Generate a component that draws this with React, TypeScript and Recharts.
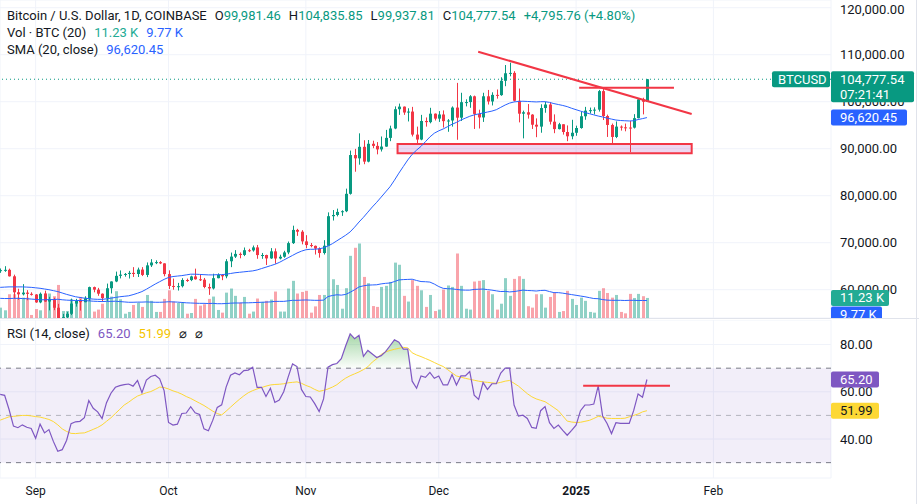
import React from 'react';
import {
  Area,
  Bar,
  CartesianGrid,
  ComposedChart,
  Line,
  ReferenceArea,
  ReferenceLine,
  XAxis,
  YAxis,
} from 'recharts';

const GREEN = '#089981';
const RED = '#F23645';
const BLUE = '#2962FF';
const PURPLE = '#7E57C2';
const YELLOW = '#FDD835';
const TEXT = '#131722';
const GRID = '#F0F3FA';
const VOL_UP = 'rgba(8,153,129,0.45)';
const VOL_DOWN = 'rgba(242,54,69,0.45)';
const FONT = 'Roboto, "Noto Sans", sans-serif';

// daily candles, Aug 24 2024 .. Jan 17 2025 (index 0..146)
const opens = [
  64080, 64160, 64230, 62850, 59450, 59020, 59380, 59120, 58980, 57300,
  59130, 57480, 57980, 56160, 53950, 54160, 54880, 57050, 57650, 57350,
  58130, 60550, 60010, 59150, 58220, 60310, 61750, 62950, 63200, 63350,
  63580, 63340, 64280, 63140, 65180, 65790, 65870, 65600, 63320, 60800,
  60630, 60750, 62070, 62050, 62820, 62220, 62130, 60580, 60270, 62450,
  63180, 62850, 66050, 67040, 67620, 67400, 68400, 68360, 69000, 67370,
  67380, 66660, 68160, 66640, 67010, 67930, 69910, 72720, 72340, 70280,
  69500, 69330, 68750, 67800, 69360, 75640, 75900, 76550, 76700, 80400,
  88650, 87950, 90400, 87250, 91050, 90600, 89850, 90450, 92300, 94300,
  98400, 98950, 97700, 97900, 93000, 91950, 95900, 95650, 97450, 96400,
  97280, 95860, 96000, 98750, 96600, 99900, 99920, 101150, 97400, 96650,
  101150, 100050, 101450, 101400, 104450, 106050, 106130, 100200, 97450, 97750,
  97250, 95100, 94700, 98650, 99400, 95750, 94170, 95200, 93550, 92640,
  93390, 94400, 96900, 98100, 98200, 98310, 102250, 96950, 95050, 92500,
  94700, 94550, 94500, 94480, 96500, 100500, 99981.46,
];
const highs = [
  64520, 65000, 64480, 63200, 60200, 61180, 59900, 59450, 59060, 59400,
  59800, 58500, 58300, 56990, 54850, 55300, 58100, 58050, 57990, 58600,
  60650, 60660, 60390, 59210, 61300, 61780, 63850, 64100, 63550, 64000,
  64800, 64700, 64800, 65800, 66500, 66250, 66080, 65620, 64120, 62360,
  61450, 62450, 62360, 62980, 64480, 63170, 62500, 61300, 63400, 63480,
  63280, 66500, 67900, 68420, 67930, 68980, 68700, 69400, 69520, 67820,
  67450, 68850, 68780, 67450, 68280, 70250, 73620, 72950, 72670, 71600,
  69940, 69400, 69000, 70540, 76450, 76950, 77250, 76900, 81500, 89600,
  89960, 93270, 91800, 91850, 91700, 91400, 92600, 94000, 94900, 99000,
  99600, 98980, 98600, 98900, 94700, 97200, 96650, 98700, 97500, 98000,
  98150, 96300, 99000, 104000, 101900, 100500, 101400, 101300, 98300, 101900,
  102500, 102000, 102600, 105200, 107800, 108300, 106500, 102800, 98100, 99500,
  97350, 96450, 99450, 99950, 99900, 97300, 95500, 95200, 94950, 96150,
  94900, 97800, 98900, 98750, 98800, 102500, 102700, 97250, 95350, 95800,
  94950, 95350, 95900, 97350, 100700, 100850, 104835.85,
];
const lows = [
  63580, 63800, 62800, 58100, 57860, 58780, 57750, 58750, 57200, 57120,
  57420, 55600, 55650, 52550, 53750, 53650, 54600, 56400, 55550, 57320,
  57650, 59450, 58700, 57500, 57620, 59200, 61600, 62400, 62770, 62380,
  62710, 62700, 62900, 62680, 64830, 65440, 65450, 62850, 60150, 60000,
  59820, 60480, 61660, 61820, 62140, 61850, 60300, 58900, 60050, 62420,
  62030, 62430, 64800, 66750, 66680, 67150, 68000, 68100, 66580, 66570,
  65260, 66560, 65520, 66450, 66800, 67550, 69730, 71450, 69650, 68820,
  69020, 67480, 66820, 67480, 69300, 74720, 75600, 75700, 76500, 80230,
  85100, 86600, 86700, 87100, 90100, 88800, 89400, 90400, 91600, 94150,
  97200, 97200, 95800, 92600, 91150, 91800, 94700, 95400, 96000, 95700,
  94500, 93600, 94700, 91900, 95900, 99000, 98700, 94200, 94300, 95700,
  99400, 99200, 100650, 101250, 103300, 105400, 100050, 95600, 92200, 96400,
  94200, 92450, 93400, 97650, 95150, 93300, 94100, 93000, 91600, 92000,
  92750, 94250, 96150, 97500, 97300, 97900, 96100, 92500, 91200, 92250,
  93850, 93700, 89260, 94300, 96450, 97300, 99937.81,
];
const closes = [
  64160, 64230, 62850, 59450, 59020, 59380, 59120, 58980, 57300, 59130,
  57480, 57980, 56160, 53950, 54160, 54880, 57050, 57650, 57350, 58130,
  60550, 60010, 59150, 58220, 60310, 61750, 62950, 63200, 63350, 63580,
  63340, 64280, 63140, 65180, 65790, 65870, 65600, 63320, 60800, 60630,
  60750, 62070, 62050, 62820, 62220, 62130, 60580, 60270, 62450, 63180,
  62850, 66050, 67040, 67620, 67400, 68400, 68360, 69000, 67370, 67380,
  66660, 68160, 66640, 67010, 67930, 69910, 72720, 72340, 70280, 69500,
  69330, 68750, 67800, 69360, 75640, 75900, 76550, 76700, 80400, 88650,
  87950, 90400, 87250, 91050, 90600, 89850, 90450, 92300, 94300, 98400,
  98950, 97700, 97900, 93000, 91950, 95900, 95650, 97450, 96400, 97280,
  95860, 96000, 98750, 96600, 99900, 99920, 101150, 97400, 96650, 101150,
  100050, 101450, 101400, 104450, 106050, 106130, 100200, 97450, 97750, 97250,
  95100, 94700, 98650, 99400, 95750, 94170, 95200, 93550, 92640, 93390,
  94400, 96900, 98100, 98200, 98310, 102250, 96950, 95050, 92500, 94700,
  94550, 94500, 94480, 96500, 100500, 99981.46, 104777.54,
];
// volume in thousands of BTC
const volumes = [
  5.8, 4.3, 13.3, 13.3, 11.4, 11.4, 11.4, 1.7, 5.0, 4.3,
  14.0, 13.7, 12.2, 18.5, 3.9, 3.9, 10.5, 9.6, 11.8, 11.4,
  11.4, 3.6, 4.7, 8.0, 11.8, 12.0, 15.0, 10.5, 2.4, 3.4,
  7.3, 8.6, 6.2, 12.9, 9.6, 3.4, 3.4, 10.7, 15.5, 9.2,
  8.4, 8.8, 2.4, 2.8, 10.7, 6.9, 7.7, 10.7, 12.0, 4.5,
  3.0, 14.2, 16.5, 12.4, 8.6, 11.8, 2.4, 3.6, 10.9, 9.0,
  9.6, 10.3, 14.8, 3.6, 3.6, 16.5, 20.8, 13.7, 14.6, 15.2,
  3.0, 6.5, 12.9, 12.9, 44.6, 21.7, 18.5, 5.2, 16.7, 34.8,
  39.3, 41.7, 23.0, 19.5, 6.7, 6.2, 17.4, 18.0, 20.2, 31.0,
  29.8, 12.4, 9.2, 21.2, 18.0, 15.5, 6.2, 12.9, 3.9, 4.7,
  15.9, 18.2, 17.4, 36.1, 18.0, 5.2, 4.7, 20.4, 20.8, 21.2,
  15.2, 13.3, 4.7, 8.0, 22.3, 12.4, 21.9, 23.4, 21.9, 6.6,
  5.8, 13.3, 13.3, 5.8, 11.8, 14.2, 3.4, 3.9, 15.2, 10.7,
  7.3, 11.4, 9.6, 3.4, 3.0, 15.2, 16.7, 14.0, 11.4, 12.9,
  3.4, 2.6, 13.5, 11.2, 13.5, 12.2, 11.23,
];
const volumeMa = [
  11.0, 10.9, 10.9, 11.0, 11.0, 10.9, 10.8, 10.6, 10.4, 10.2,
  10.2, 10.3, 10.3, 10.5, 10.2, 10.0, 9.9, 9.8, 9.8, 9.7,
  9.6, 9.4, 9.3, 9.2, 9.3, 9.3, 9.4, 9.2, 9.0, 8.8,
  8.8, 8.9, 8.9, 9.0, 8.9, 8.8, 8.8, 8.9, 9.1, 9.0,
  8.9, 8.7, 8.5, 8.4, 8.3, 8.2, 8.2, 8.1, 8.2, 8.0,
  8.0, 8.1, 8.3, 8.4, 8.4, 8.5, 8.5, 8.6, 8.7, 8.8,
  8.9, 9.0, 9.3, 9.3, 9.3, 9.6, 9.9, 9.9, 10.0, 10.1,
  10.0, 9.9, 9.9, 10.0, 12.0, 12.6, 13.0, 12.8, 13.2, 14.4,
  15.8, 17.4, 18.0, 18.4, 18.5, 18.6, 19.1, 19.4, 19.6, 20.4,
  21.3, 21.5, 21.6, 21.7, 21.0, 20.4, 20.3, 20.1, 19.0, 17.6,
  16.6, 16.4, 16.3, 16.0, 15.7, 15.6, 15.6, 16.0, 16.1, 16.2,
  15.9, 15.6, 15.2, 14.8, 14.9, 14.6, 14.8, 15.2, 15.6, 15.4,
  15.3, 15.1, 15.4, 15.5, 14.8, 14.2, 14.2, 13.9, 13.5, 13.1,
  12.7, 12.3, 11.9, 11.4, 10.9, 10.8, 10.3, 10.0, 9.9, 9.9,
  9.9, 9.8, 9.9, 9.9, 9.8, 9.8, 9.77,
];
const sma20 = [
  60500, 60550, 60600, 60600, 60600, 60600, 60550, 60500, 60400, 60300,
  60150, 60000, 59800, 59600, 59300, 59000, 58750, 58500, 58350, 58200,
  58100, 58000, 57950, 57950, 58050, 58200, 58350, 58500, 58600, 58700,
  58950, 59250, 59600, 60100, 60650, 61200, 61700, 62200, 62600, 62800,
  62900, 63000, 63150, 63300, 63300, 63250, 63200, 63150, 63150, 63200,
  63200, 63300, 63450, 63600, 63700, 63800, 63900, 64000, 64200, 64500,
  64800, 65100, 65400, 65800, 66300, 66800, 67300, 67800, 68200, 68500,
  68600, 68600, 68700, 68900, 69300, 69800, 70400, 71000, 71600, 72300,
  73300, 74400, 75400, 76500, 77600, 78600, 79700, 80800, 81900, 83300,
  84800, 86200, 87600, 88800, 89700, 90500, 91500, 92500, 93300, 93800,
  94200, 94700, 95200, 95600, 96100, 96500, 96900, 97200, 97400, 97600,
  97800, 98000, 98300, 98800, 99300, 99700, 99950, 100050, 100100, 100050,
  100000, 99950, 100000, 100000, 99850, 99600, 99400, 99200, 98950, 98600,
  98300, 98000, 97700, 97450, 97200, 96950, 96750, 96500, 96300, 96100,
  96000, 95950, 95900, 95950, 96200, 96400, 96620.45,
];
const rsi14 = [
  58.9, 58.5, 52.5, 45.5, 44.8, 46.0, 45.0, 44.5, 40.3, 46.3,
  42.6, 44.0, 39.0, 34.8, 35.5, 39.5, 46.5, 47.3, 47.5, 49.0,
  56.3, 53.0, 51.5, 48.7, 55.4, 59.4, 61.9, 62.6, 63.0, 63.3,
  62.4, 64.8, 59.6, 65.0, 66.5, 67.0, 65.5, 60.5, 47.0, 45.9,
  46.3, 50.8, 51.0, 53.7, 51.1, 50.4, 44.3, 43.5, 48.0, 53.4,
  54.5, 62.0, 67.0, 68.0, 67.2, 69.0, 69.2, 70.4, 61.9, 61.9,
  58.0, 61.5, 55.5, 56.5, 60.0, 66.2, 71.8, 70.7, 61.0, 58.0,
  57.8, 55.0, 51.6, 57.0, 70.4, 71.5, 72.0, 74.0, 79.5, 84.5,
  82.5, 83.9, 75.0, 77.5, 76.0, 74.5, 75.3, 77.0, 79.5, 82.0,
  81.0, 78.1, 78.1, 64.5, 61.5, 66.7, 66.1, 68.2, 65.7, 66.7,
  62.9, 62.9, 67.3, 62.9, 66.7, 66.7, 68.6, 58.6, 56.8, 63.9,
  61.0, 63.4, 63.4, 67.9, 70.0, 70.0, 54.4, 49.7, 50.1, 48.7,
  44.9, 44.5, 52.0, 53.7, 46.9, 44.5, 45.9, 43.7, 41.6, 43.7,
  45.9, 52.0, 54.4, 54.4, 54.8, 62.5, 49.7, 46.6, 42.3, 46.9,
  46.6, 46.6, 46.6, 52.0, 59.1, 57.7, 65.2,
];
const rsiMa14 = [
  48.0, 48.7, 49.4, 49.6, 49.8, 50.0, 50.0, 49.8, 49.5, 49.3,
  48.8, 48.3, 47.4, 46.0, 44.3, 43.2, 42.4, 42.3, 42.5, 42.6,
  43.3, 44.1, 44.9, 46.0, 47.5, 49.0, 50.8, 52.6, 54.4, 55.6,
  57.0, 58.2, 58.9, 59.6, 60.1, 61.0, 62.0, 61.8, 61.2, 60.4,
  59.8, 59.0, 58.0, 57.2, 56.2, 55.2, 54.2, 53.0, 51.8, 50.8,
  50.2, 51.8, 53.5, 55.2, 56.8, 58.3, 59.6, 60.5, 61.2, 61.8,
  62.4, 62.9, 63.1, 63.2, 63.4, 63.8, 64.0, 64.2, 63.6, 62.7,
  62.0, 61.0, 60.2, 60.6, 61.2, 62.0, 63.0, 64.5, 65.8, 66.8,
  67.6, 68.4, 69.4, 70.6, 72.6, 74.0, 75.8, 76.9, 77.5, 78.0,
  78.4, 78.8, 78.6, 76.5, 75.6, 74.9, 74.1, 73.3, 72.4, 71.5,
  70.7, 69.4, 68.0, 66.7, 66.2, 65.7, 65.3, 64.9, 64.5, 64.2,
  64.0, 63.8, 63.6, 64.0, 64.5, 64.8, 63.6, 62.4, 60.8, 59.2,
  57.9, 57.0, 56.4, 55.8, 54.6, 53.3, 52.0, 49.8, 47.6, 47.2,
  47.0, 47.1, 47.5, 47.9, 48.7, 49.6, 49.3, 48.8, 48.7, 48.7,
  48.7, 48.8, 49.4, 50.0, 50.6, 51.5, 51.99,
];

const monthTicks = [8, 38, 69, 99, 130, 161];
const monthLabels = ['Sep', 'Oct', 'Nov', 'Dec', '2025', 'Feb'];
const priceTicks = [60000, 70000, 80000, 90000, 100000, 110000, 120000];
const rsiTicks = [40, 60, 80];

// hand drawn annotations, in (day index, value)
const trendLine = [{ x: 107.9, y: 110640 }, { x: 156.1, y: 97380 }];
const resistance = [{ x: 130.7, y: 102980 }, { x: 152.1, y: 102980 }];
const supportZone = { x1: 89.7, x2: 156.1, y1: 89020, y2: 91000 };
const rsiLevel = [{ x: 131.6, y: 62.6 }, { x: 151.2, y: 62.6 }];

const X_DOMAIN: [number, number] = [-0.045, 187.55];
const PRICE_DOMAIN: [number, number] = [53979, 121638];
const VOL_DOMAIN: [number, number] = [0, 178];
const RSI_DOMAIN: [number, number] = [23.5, 90.4];

const rows = closes.map((close, i) => ({
  i,
  open: opens[i],
  high: highs[i],
  low: lows[i],
  close,
  range: [lows[i], highs[i]],
  vol: volumes[i],
  volMa: volumeMa[i],
  sma: sma20[i],
  rsi: rsi14[i],
  rsiMa: rsiMa14[i],
  ob: [70, Math.max(70, rsi14[i])],
}));

const last = rows[rows.length - 1];

const fmt = (v: number) =>
  v.toLocaleString('en-US', { minimumFractionDigits: 2, maximumFractionDigits: 2 });

function Candle(props: any) {
  const { x, y, width, height, payload } = props;
  if (!payload || x == null || y == null) return null;
  const { open, close, high, low } = payload;
  const top = Math.min(y, y + height);
  const h = Math.abs(height);
  const k = high > low ? h / (high - low) : 0;
  const cx = Math.round(x + width / 2) + 0.5;
  const color = close >= open ? GREEN : RED;
  const bodyTop = top + (high - Math.max(open, close)) * k;
  const bodyH = Math.max(1, Math.abs(open - close) * k);
  return (
    <g>
      <line x1={cx} x2={cx} y1={top} y2={top + h} stroke={color} strokeWidth={1} />
      <rect x={cx - 1.5} y={bodyTop} width={3} height={bodyH} fill={color} />
    </g>
  );
}

function VolBar(props: any) {
  const { x, y, width, height, payload } = props;
  if (!payload || x == null || !height) return null;
  const cx = Math.round(x + width / 2);
  return (
    <rect
      x={cx - 1}
      y={y}
      width={3}
      height={height}
      fill={payload.close >= payload.open ? VOL_UP : VOL_DOWN}
    />
  );
}

function PriceTick({ x, y, payload }: any) {
  return (
    <text x={x} y={y} dy={4.5} fill={TEXT} fontSize={13} fontFamily={FONT}>
      {fmt(payload.value)}
    </text>
  );
}

function MonthTick({ x, y, payload }: any) {
  const label = monthLabels[monthTicks.indexOf(payload.value)];
  return (
    <text
      x={x}
      y={y}
      dy={9}
      textAnchor="middle"
      fill={TEXT}
      fontSize={12}
      fontWeight={label === '2025' ? 700 : 400}
      fontFamily={FONT}
    >
      {label}
    </text>
  );
}

function Tag({ viewBox, text, fill, color = '#fff', width, shift = 0 }: any) {
  if (!viewBox) return null;
  const left = viewBox.x + viewBox.width;
  const y = viewBox.y + shift;
  return (
    <g>
      <rect x={left} y={y - 8} width={width} height={16} rx={2} fill={fill} />
      <text x={left + 9} y={y} dy={4.5} fill={color} fontSize={13} fontFamily={FONT}>
        {text}
      </text>
    </g>
  );
}

function LastPriceTag({ viewBox }: any) {
  if (!viewBox) return null;
  const left = viewBox.x + viewBox.width;
  const y = viewBox.y;
  return (
    <g>
      <rect x={left - 59} y={y - 8} width={58} height={16} rx={2} fill={GREEN} />
      <text x={left - 53} y={y} dy={4.5} fill="#fff" fontSize={13} fontFamily={FONT}>
        BTCUSD
      </text>
      <rect x={left} y={y - 8} width={83} height={31} rx={2} fill={GREEN} />
      <text x={left + 9} y={y} dy={4.5} fill="#fff" fontSize={13} fontFamily={FONT}>
        {fmt(last.close)}
      </text>
      <text x={left + 9} y={y + 15} dy={4.5} fill="#fff" fontSize={13} fontFamily={FONT}>
        07:21:41
      </text>
    </g>
  );
}

const legend: React.CSSProperties = {
  position: 'absolute',
  left: 7,
  fontSize: 13,
  lineHeight: '17px',
  color: TEXT,
  whiteSpace: 'nowrap',
};
const gap = { marginLeft: 8 };
const layer = (top: number): React.CSSProperties => ({ position: 'absolute', left: 0, top });
const noMargin = { top: 0, right: 0, bottom: 0, left: 0 };
const tagMargin = { top: 0, right: 88, bottom: 0, left: 0 };

export default function App() {
  return (
    <div
      style={{
        position: 'relative',
        width: 919,
        height: 504,
        background: '#fff',
        fontFamily: FONT,
        overflow: 'hidden',
      }}
    >
      <style>{'body{margin:0}'}</style>

      {/* price + volume pane */}
      <div style={layer(0)}>
        <ComposedChart width={919} height={318} data={rows} margin={noMargin}>
          <CartesianGrid stroke={GRID} />
          <XAxis type="number" dataKey="i" domain={X_DOMAIN} allowDataOverflow ticks={monthTicks} hide />
          <XAxis xAxisId="vx" type="number" dataKey="i" domain={X_DOMAIN} allowDataOverflow hide />
          <YAxis
            orientation="right"
            width={88}
            domain={PRICE_DOMAIN}
            allowDataOverflow
            ticks={priceTicks}
            axisLine={false}
            tickLine={false}
            tickMargin={3}
            tick={<PriceTick />}
          />
          <YAxis yAxisId="vy" domain={VOL_DOMAIN} allowDataOverflow hide />
          <ReferenceArea
            x1={supportZone.x1}
            x2={supportZone.x2}
            y1={supportZone.y1}
            y2={supportZone.y2}
            fill="rgba(156,39,176,0.18)"
            fillOpacity={1}
            stroke={RED}
            strokeWidth={2}
          />
          <Bar xAxisId="vx" yAxisId="vy" dataKey="vol" barSize={3} shape={<VolBar />} isAnimationActive={false} />
          <Line
            xAxisId="vx"
            yAxisId="vy"
            dataKey="volMa"
            stroke={BLUE}
            strokeWidth={1}
            dot={false}
            activeDot={false}
            isAnimationActive={false}
          />
          <Line dataKey="sma" stroke={BLUE} strokeWidth={1} dot={false} activeDot={false} isAnimationActive={false} />
          <ReferenceLine y={last.close} stroke={GREEN} strokeDasharray="1 3" />
          <Bar dataKey="range" barSize={3} shape={<Candle />} isAnimationActive={false} />
          <ReferenceLine segment={trendLine} stroke={RED} strokeWidth={2} />
          <ReferenceLine segment={resistance} stroke={RED} strokeWidth={2} />
        </ComposedChart>
      </div>

      {/* price scale tags, drawn over the axis labels */}
      <div style={layer(0)}>
        <ComposedChart width={919} height={318} data={rows} margin={tagMargin}>
          <XAxis type="number" dataKey="i" domain={X_DOMAIN} allowDataOverflow hide />
          <YAxis domain={PRICE_DOMAIN} allowDataOverflow hide />
          <YAxis yAxisId="vy" domain={VOL_DOMAIN} allowDataOverflow hide />
          <ReferenceLine y={last.close} stroke="none" label={<LastPriceTag />} />
          <ReferenceLine y={last.sma} stroke="none" label={<Tag text={fmt(last.sma)} fill={BLUE} width={76} />} />
          <ReferenceLine
            yAxisId="vy"
            y={last.vol}
            stroke="none"
            label={<Tag text="11.23 K" fill="#22AB94" width={58} />}
          />
          <ReferenceLine
            yAxisId="vy"
            y={last.volMa}
            stroke="none"
            label={<Tag text="9.77 K" fill={BLUE} width={51} shift={14} />}
          />
        </ComposedChart>
      </div>

      <div style={{ position: 'absolute', left: 0, top: 318, width: 919, height: 1, background: '#E0E3EB' }} />

      {/* RSI pane */}
      <div style={layer(320)}>
        <ComposedChart width={919} height={184} data={rows} margin={noMargin}>
          <defs>
            <linearGradient id="obFill" x1="0" y1="0" x2="0" y2="1">
              <stop offset="0" stopColor="#4CAF50" stopOpacity={0.5} />
              <stop offset="1" stopColor="#4CAF50" stopOpacity={0.02} />
            </linearGradient>
          </defs>
          <CartesianGrid stroke={GRID} />
          <XAxis
            type="number"
            dataKey="i"
            domain={X_DOMAIN}
            allowDataOverflow
            ticks={monthTicks}
            height={26}
            axisLine={false}
            tickLine={false}
            tick={<MonthTick />}
          />
          <YAxis
            orientation="right"
            width={88}
            domain={RSI_DOMAIN}
            allowDataOverflow
            ticks={rsiTicks}
            axisLine={false}
            tickLine={false}
            tickMargin={3}
            tick={<PriceTick />}
          />
          <ReferenceArea y1={30} y2={70} fill={PURPLE} fillOpacity={0.1} stroke="none" />
          <ReferenceLine y={70} stroke="#787B86" strokeDasharray="5 5" />
          <ReferenceLine y={50} stroke="#787B86" strokeOpacity={0.5} strokeDasharray="5 5" />
          <ReferenceLine y={30} stroke="#787B86" strokeDasharray="5 5" />
          <Area dataKey="ob" stroke="none" fill="url(#obFill)" fillOpacity={1} isAnimationActive={false} activeDot={false} />
          <Line dataKey="rsiMa" stroke={YELLOW} strokeWidth={1} dot={false} activeDot={false} isAnimationActive={false} />
          <Line dataKey="rsi" stroke={PURPLE} strokeWidth={1.2} dot={false} activeDot={false} isAnimationActive={false} />
          <ReferenceLine segment={rsiLevel} stroke={RED} strokeWidth={2} />
        </ComposedChart>
      </div>

      {/* RSI scale tags */}
      <div style={layer(320)}>
        <ComposedChart width={919} height={158} data={rows} margin={tagMargin}>
          <XAxis type="number" dataKey="i" domain={X_DOMAIN} allowDataOverflow hide />
          <YAxis domain={RSI_DOMAIN} allowDataOverflow hide />
          <ReferenceLine y={last.rsi} stroke="none" label={<Tag text={fmt(last.rsi)} fill={PURPLE} width={48} />} />
          <ReferenceLine
            y={last.rsiMa}
            stroke="none"
            label={<Tag text={fmt(last.rsiMa)} fill={YELLOW} color={TEXT} width={48} />}
          />
        </ComposedChart>
      </div>

      <div style={{ position: 'absolute', left: 916, top: 0, width: 1, height: 504, background: '#E0E3EB' }} />

      <div style={{ ...legend, top: 7 }}>
        <span>Bitcoin / U.S. Dollar, 1D, COINBASE</span>
        <span style={gap}>O<span style={{ color: GREEN }}>99,981.46</span></span>
        <span style={gap}>H<span style={{ color: GREEN }}>104,835.85</span></span>
        <span style={gap}>L<span style={{ color: GREEN }}>99,937.81</span></span>
        <span style={gap}>C<span style={{ color: GREEN }}>104,777.54</span></span>
        <span style={{ ...gap, color: GREEN }}>+4,795.76 (+4.80%)</span>
      </div>
      <div style={{ ...legend, top: 24 }}>
        <span>Vol · BTC (20)</span>
        <span style={{ ...gap, color: '#22AB94' }}>11.23 K</span>
        <span style={{ ...gap, color: BLUE }}>9.77 K</span>
      </div>
      <div style={{ ...legend, top: 41 }}>
        <span>SMA (20, close)</span>
        <span style={{ ...gap, color: BLUE }}>96,620.45</span>
      </div>
      <div style={{ ...legend, top: 325 }}>
        <span>RSI (14, close)</span>
        <span style={{ ...gap, color: PURPLE }}>65.20</span>
        <span style={{ ...gap, color: '#F5C400' }}>51.99</span>
        <span style={gap}>⌀</span>
        <span style={gap}>⌀</span>
      </div>
    </div>
  );
}
